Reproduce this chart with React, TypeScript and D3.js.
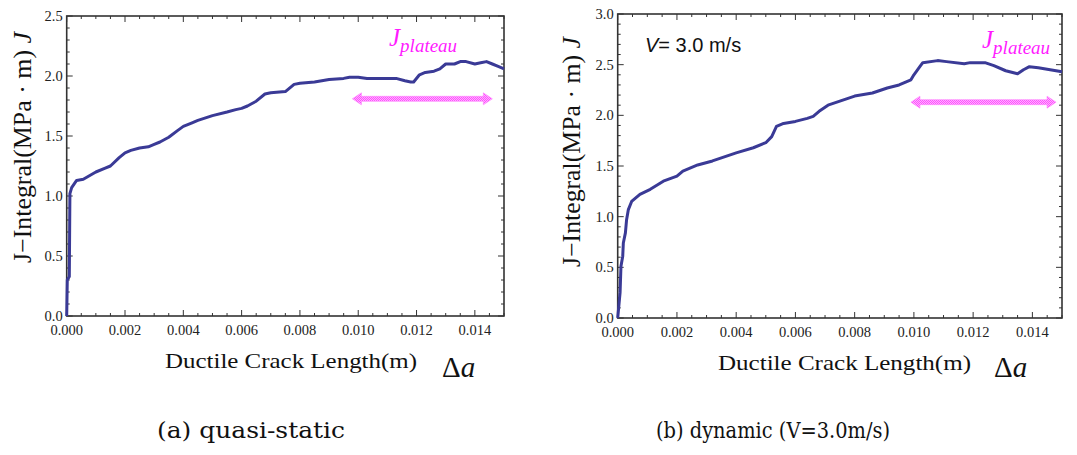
import React from 'react';
import * as d3 from 'd3';

// quasi-static curve (crack length in m, J in MPa·m)
const staticDa = [0, 0.00002, 0.00009, 0.00011, 0.00017, 0.00034, 0.00057, 0.001, 0.0013, 0.0015, 0.0018, 0.002,
  0.0022, 0.0025, 0.0028, 0.003, 0.0032, 0.0035, 0.0038, 0.004, 0.0043, 0.0045, 0.005, 0.0055, 0.0058, 0.006,
  0.0062, 0.0065, 0.0068, 0.007, 0.0075, 0.0078, 0.008, 0.0085, 0.009, 0.0095, 0.0097, 0.01, 0.0103, 0.011,
  0.0113, 0.0116, 0.0118, 0.0119, 0.0121, 0.0123, 0.0126, 0.0128, 0.013, 0.0133, 0.0135, 0.0137, 0.014, 0.0142,
  0.0144, 0.0146, 0.0148, 0.015];
const staticJ = [0, 0.3, 0.33, 1.02, 1.07, 1.13, 1.14, 1.2, 1.23, 1.25, 1.32, 1.36,
  1.38, 1.4, 1.41, 1.43, 1.45, 1.49, 1.545, 1.58, 1.61, 1.63, 1.67, 1.7, 1.72, 1.73,
  1.75, 1.79, 1.85, 1.86, 1.87, 1.93, 1.94, 1.95, 1.97, 1.98, 1.99, 1.99, 1.98, 1.98,
  1.98, 1.96, 1.95, 1.95, 2.01, 2.03, 2.04, 2.06, 2.1, 2.1, 2.12, 2.12, 2.1, 2.11,
  2.12, 2.1, 2.08, 2.06];

// dynamic curve, V = 3.0 m/s
const dynDa = [0, 0.00008, 0.00011, 0.00017, 0.00019, 0.00026, 0.0003, 0.00036, 0.00047, 0.00075, 0.0011, 0.00154,
  0.002, 0.0022, 0.0027, 0.0032, 0.004, 0.00458, 0.005, 0.0052, 0.00536, 0.0056, 0.006, 0.0064, 0.0066, 0.0068,
  0.0071, 0.0075, 0.008, 0.0086, 0.0091, 0.0095, 0.0099, 0.01, 0.0102, 0.0103, 0.0108, 0.0111, 0.0117, 0.0119,
  0.0124, 0.0127, 0.0131, 0.0135, 0.0137, 0.0139, 0.0142, 0.0146, 0.015];
const dynJ = [0, 0.25, 0.51, 0.61, 0.74, 0.84, 0.97, 1.07, 1.15, 1.22, 1.27, 1.35,
  1.4, 1.45, 1.51, 1.55, 1.63, 1.68, 1.73, 1.79, 1.89, 1.92, 1.94, 1.97, 1.99, 2.04,
  2.1, 2.14, 2.19, 2.22, 2.27, 2.3, 2.35, 2.4, 2.48, 2.52, 2.54, 2.53, 2.51, 2.52,
  2.52, 2.49, 2.44, 2.41, 2.45, 2.48, 2.47, 2.45, 2.43];

const xTicks = [0, 0.002, 0.004, 0.006, 0.008, 0.01, 0.012, 0.014];
const staticYTicks = [0, 0.5, 1.0, 1.5, 2.0, 2.5];
const dynYTicks = [0, 0.5, 1.0, 1.5, 2.0, 2.5, 3.0];
const plateauRange = [0.0098, 0.0146];
const dynPlateauRange = [0.0099, 0.0148];

const serif = { fontFamily: 'Liberation Serif' };
const caption = { fontFamily: 'DejaVu Serif' };
const sans = { fontFamily: 'Liberation Sans' };
const lineColor = '#3a3a96';
const magenta = '#ff1aff';

type PanelProps = {
  xs: number[];
  ys: number[];
  yTicks: number[];
  yMax: number;
  left: number;
  right: number;
  top: number;
  bottom: number;
  plateau: number[];
  arrowJ: number;
};

function Panel({ xs, ys, yTicks, yMax, left, right, top, bottom, plateau, arrowJ }: PanelProps) {
  const x = d3.scaleLinear().domain([0, 0.015]).range([left, right]);
  const y = d3.scaleLinear().domain([0, yMax]).range([bottom, top]);
  const line = d3.line<number>().x((d, i) => x(xs[i])).y(d => y(d));

  const xMinor = d3.range(0, 0.015 + 1e-9, 0.0005);
  const yMinor = d3.range(0, yMax + 1e-9, 0.1);

  // double arrow
  const ax0 = x(plateau[0]);
  const ax1 = x(plateau[1]);
  const ay = y(arrowJ);
  const arrow = `M${ax0},${ay} L${ax0 + 9},${ay - 6} L${ax0 + 9},${ay - 2.5} L${ax1 - 9},${ay - 2.5} L${ax1 - 9},${ay - 6}
    L${ax1},${ay} L${ax1 - 9},${ay + 6} L${ax1 - 9},${ay + 2.5} L${ax0 + 9},${ay + 2.5} L${ax0 + 9},${ay + 6} Z`;

  return (
    <g>
      {xMinor.map((t, i) => {
        const len = i % 4 === 0 ? 6 : 3;
        return (
          <g key={'xt' + i} stroke="#333" strokeWidth={1}>
            <line x1={x(t)} x2={x(t)} y1={bottom} y2={bottom - len} />
            <line x1={x(t)} x2={x(t)} y1={top} y2={top + len} />
          </g>
        );
      })}
      {yMinor.map((t, i) => {
        const len = i % 5 === 0 ? 6 : 3;
        return (
          <g key={'yt' + i} stroke="#333" strokeWidth={1}>
            <line x1={left} x2={left + len} y1={y(t)} y2={y(t)} />
            <line x1={right} x2={right - len} y1={y(t)} y2={y(t)} />
          </g>
        );
      })}
      <rect x={left} y={top} width={right - left} height={bottom - top} fill="none" stroke="#333" strokeWidth={1.6} />

      {xTicks.map(t => (
        <text key={'xl' + t} x={x(t)} y={bottom + 19} textAnchor="middle" style={serif} fontSize={14.5} fill="#222">
          {t.toFixed(3)}
        </text>
      ))}
      {yTicks.map(t => (
        <text key={'yl' + t} x={left - 4} y={y(t) + 5} textAnchor="end" style={serif} fontSize={14.5} fill="#222">
          {t.toFixed(1)}
        </text>
      ))}

      <path d={line(ys) || ''} fill="none" stroke={lineColor} strokeWidth={3} strokeLinejoin="round" />

      <path d={arrow} fill="url(#checker)" stroke="#ff7fff" strokeWidth={0.6} />
    </g>
  );
}

export default function App() {
  return (
    <div style={{ position: 'fixed', left: 0, top: 0 }}>
      <svg width={1077} height={455} style={{ display: 'block', background: '#fff' }}>
        <defs>
          <pattern id="checker" width={2} height={2} patternUnits="userSpaceOnUse">
            <rect width={2} height={2} fill="#ffb3ff" />
            <rect width={1} height={1} fill="#ff4dff" />
            <rect x={1} y={1} width={1} height={1} fill="#ff4dff" />
          </pattern>
        </defs>

        {/* (a) quasi-static */}
        <Panel xs={staticDa} ys={staticJ} yTicks={staticYTicks} yMax={2.5}
          left={66.7} right={504} top={16} bottom={316} plateau={plateauRange} arrowJ={1.81} />
        <text transform="translate(31,263) rotate(-90)" style={serif} fontSize={25} fill="#111"
          textLength={231} lengthAdjust="spacingAndGlyphs">
          J−Integral(MPa · m) <tspan fontStyle="italic">J</tspan>
        </text>
        <text x={165} y={368} style={serif} fontSize={21} fill="#111" textLength={252} lengthAdjust="spacingAndGlyphs">
          Ductile Crack Length(m)
        </text>
        <text x={442} y={377} style={serif} fontSize={29} fill="#111">
          Δ<tspan fontStyle="italic">a</tspan>
        </text>
        <text x={389} y={46} style={serif} fontStyle="italic" fontSize={25} fill={magenta}>
          J<tspan fontSize={19} dy={6}>plateau</tspan>
        </text>
        <text x={157} y={438} style={caption} fontSize={22} fill="#111"
          textLength={188} lengthAdjust="spacingAndGlyphs">
          (a) quasi-static
        </text>

        {/* (b) dynamic */}
        <Panel xs={dynDa} ys={dynJ} yTicks={dynYTicks} yMax={3.0}
          left={617.7} right={1062} top={14} bottom={318} plateau={dynPlateauRange} arrowJ={2.13} />
        <text transform="translate(580,267) rotate(-90)" style={serif} fontSize={25} fill="#111"
          textLength={230} lengthAdjust="spacingAndGlyphs">
          J−Integral(MPa · m) <tspan fontStyle="italic">J</tspan>
        </text>
        <text x={718} y={370} style={serif} fontSize={21} fill="#111" textLength={253} lengthAdjust="spacingAndGlyphs">
          Ductile Crack Length(m)
        </text>
        <text x={994} y={377} style={serif} fontSize={29} fill="#111">
          Δ<tspan fontStyle="italic">a</tspan>
        </text>
        <text x={982} y={48} style={serif} fontStyle="italic" fontSize={25} fill={magenta}>
          J<tspan fontSize={19} dy={6}>plateau</tspan>
        </text>
        <text x={645} y={52} style={sans} fontSize={20} fill="#111">
          <tspan fontStyle="italic">V</tspan>= 3.0 m/s
        </text>
        <text x={656} y={438} style={caption} fontSize={22} fill="#111"
          textLength={234} lengthAdjust="spacingAndGlyphs">
          (b) dynamic (V=3.0m/s)
        </text>
      </svg>
    </div>
  );
}
